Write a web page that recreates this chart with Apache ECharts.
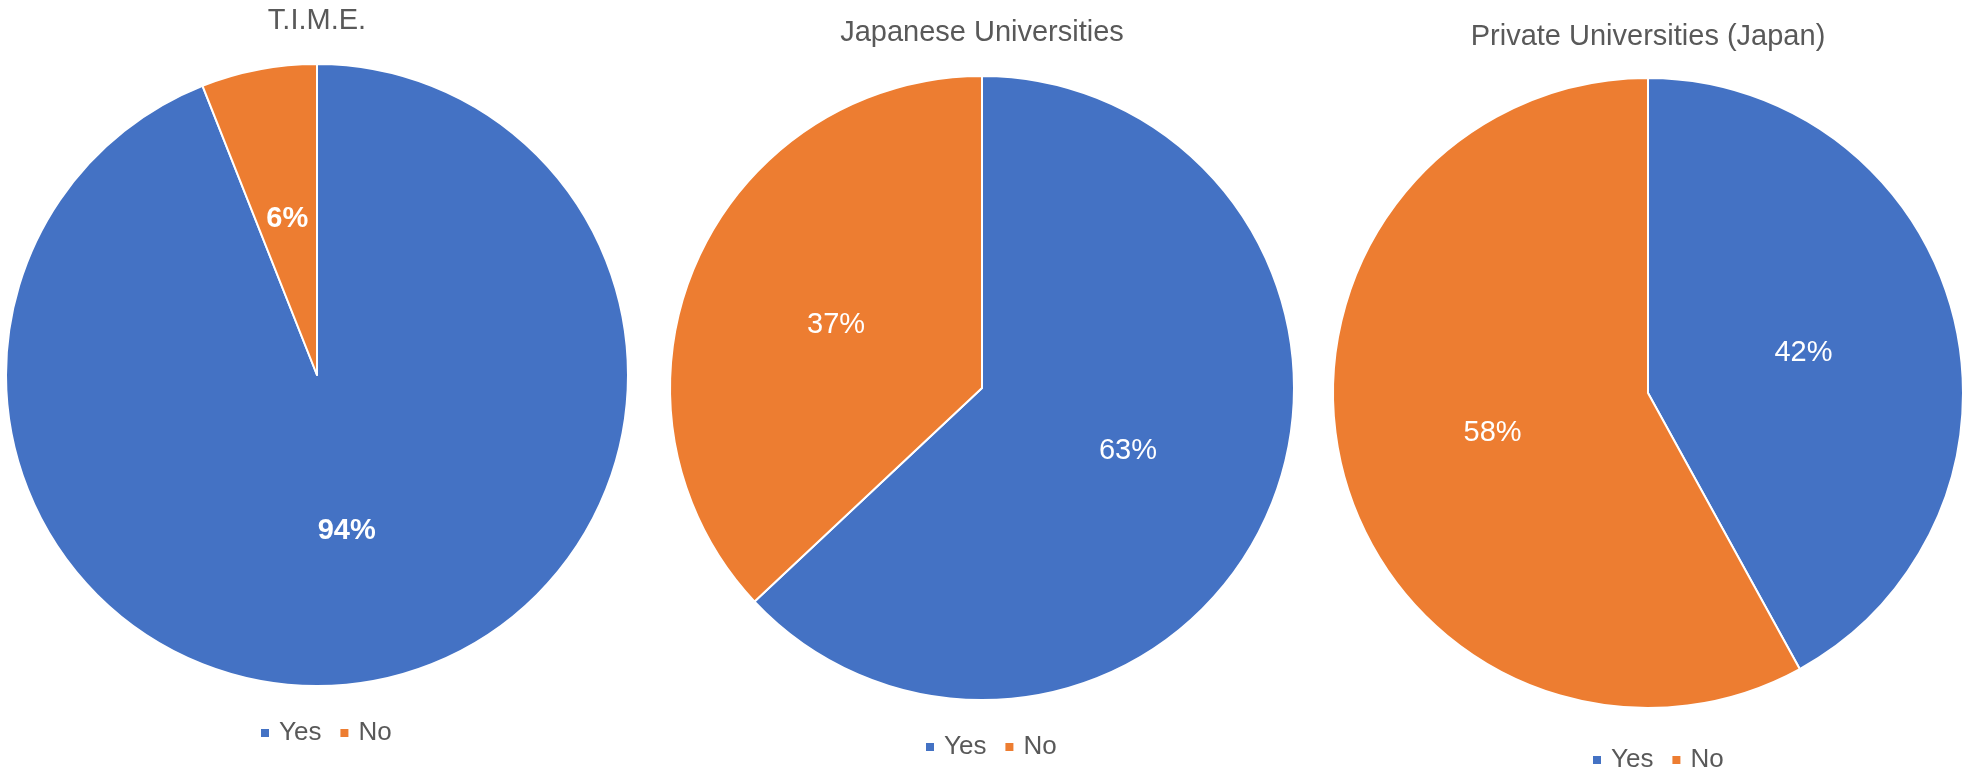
<!DOCTYPE html>
<html>
<head>
<meta charset="utf-8">
<script src="https://cdn.jsdelivr.net/npm/echarts@6/dist/echarts.min.js"></script>
<style>
  html, body { margin: 0; padding: 0; background: #ffffff; }
  #chart { width: 1964px; height: 768px; }
</style>
</head>
<body>
<div id="chart"></div>
<script>
// Survey answers, shares in percent
const categories = ['Yes', 'No'];
const timeValues = [94, 6];
const japaneseValues = [63, 37];
const privateValues = [42, 58];
const chartTitles = ['T.I.M.E.', 'Japanese Universities', 'Private Universities (Japan)'];

const colors = ['#4472C4', '#ED7D31'];
const fontFamily = '"Liberation Sans", Arial, sans-serif';
const textGrey = '#595959';

// Layout of the three pies: centre, radius, title and legend placement
const panels = [
  { cx: 317, cy: 375, r: 311, titleTop: 6,  legendLeft: 259, legendTop: 720, bold: true },
  { cx: 982, cy: 388, r: 312, titleTop: 18, legendLeft: 924, legendTop: 734, bold: false },
  { cx: 1648, cy: 393, r: 315, titleTop: 22, legendLeft: 1591, legendTop: 747, bold: false }
];
const seriesValues = [timeValues, japaneseValues, privateValues];

const option = {
  animation: false,
  color: colors,
  title: panels.map((p, i) => ({
    text: chartTitles[i],
    left: p.cx,
    top: p.titleTop,
    textAlign: 'center',
    padding: 0,
    textStyle: { color: textGrey, fontSize: 29, fontWeight: 'normal', fontFamily: fontFamily }
  })),
  legend: panels.map(p => ({
    data: categories,
    left: p.legendLeft,
    top: p.legendTop,
    orient: 'horizontal',
    padding: 0,
    itemWidth: 10,
    itemHeight: 10,
    itemGap: 17,
    icon: 'rect',
    selectedMode: false,
    textStyle: { color: textGrey, fontSize: 26, fontFamily: fontFamily, padding: [0, 0, 0, 4] }
  })),
  series: panels.map((p, i) => ({
    type: 'pie',
    center: [p.cx, p.cy],
    radius: [0, p.r],
    startAngle: 90,
    clockwise: true,
    avoidLabelOverlap: false,
    itemStyle: { borderColor: '#ffffff', borderWidth: 2 },
    label: {
      show: true,
      position: 'inside',
      formatter: '{c}%',
      color: '#ffffff',
      fontSize: 29,
      fontWeight: p.bold ? 'bold' : 'normal',
      fontFamily: fontFamily
    },
    labelLine: { show: false },
    emphasis: { disabled: true },
    data: categories.map((name, k) => ({ name: name, value: seriesValues[i][k] }))
  }))
};

const chart = echarts.init(document.getElementById('chart'), null, { renderer: 'canvas' });
chart.setOption(option);
</script>
</body>
</html>
